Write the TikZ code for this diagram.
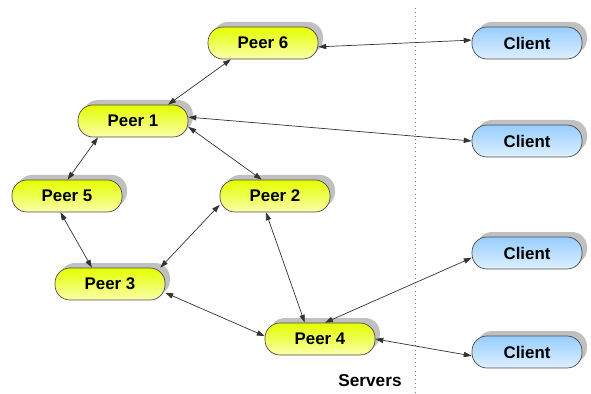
\documentclass[tikz,border=0pt]{standalone}
\usepackage{fontspec}
\setmainfont{Liberation Sans}
\definecolor{peertop}{RGB}{228, 255, 0}
\definecolor{peerbottom}{RGB}{250, 255, 170}
\definecolor{clienttop}{RGB}{150, 205, 255}
\definecolor{clientbottom}{RGB}{222, 240, 255}
\definecolor{shadowgray}{RGB}{192, 192, 192}
\usetikzlibrary{
  arrows.meta,
  shadows,
}
\tikzset{
  >={Triangle[length=4.5pt,width=3pt]},
  box/.style={draw=black!70,rounded corners=0.3cm,minimum width=2.2cm,minimum height=0.64cm,
    font=\bfseries\fontsize{9.6}{11}\selectfont,
    general shadow={fill=shadowgray,shadow xshift=0.1cm,shadow yshift=0.1cm}},
  peer/.style={box,top color=peertop,bottom color=peerbottom},
  client/.style={box,top color=clienttop,bottom color=clientbottom},
  link/.style={<->,draw=black!80,line width=0.4pt},
}

\begin{document}
\begin{tikzpicture}[x=0.02cm,y=-0.02cm]
        \useasboundingbox (0,0) rectangle (591,394);

        \node[peer]    (p6) at (263,43)  {Peer 6};
        \node[peer]    (p1) at (133,121) {Peer 1};
        \node[peer]    (p5) at (67,196)  {Peer 5};
        \node[peer]    (p2) at (275,196) {Peer 2};
        \node[peer]    (p3) at (110,284) {Peer 3};
        \node[peer]    (p4) at (320,339) {Peer 4};

        \node[client]  (c1) at (527,43)  {Client};
        \node[client]  (c2) at (527,141) {Client};
        \node[client]  (c3) at (527,253) {Client};
        \node[client]  (c4) at (527,352) {Client};

        \coordinate (top) at (415,8);
        \coordinate (bottom) at (415,394);
        \draw[dotted,gray] (top) -- (bottom);
        \node[font=\bfseries\fontsize{9.8}{11}\selectfont] (servers) at (370,381) {Servers};

        \draw[link] (p6.-4)  -- (c1.177);
        \draw[link] (p6.207) -- (p1.25);
        \draw[link] (p1.4)   -- (c2.180);
        \draw[link] (p1.205) -- (p5.88);
        \draw[link] (p1.-6)  -- (p2.129);
        \draw[link] (p5.248) -- (p3.138);
        \draw[link] (p2.189) -- (p3.18);
        \draw[link] (p2.241) -- (p4.133);
        \draw[link] (p3.-9)  -- (p4.177);
        \draw[link] (p4.73)  -- (c3.185);
        \draw[link] (p4.0)   -- (c4.184);
    \end{tikzpicture}
\end{document}
